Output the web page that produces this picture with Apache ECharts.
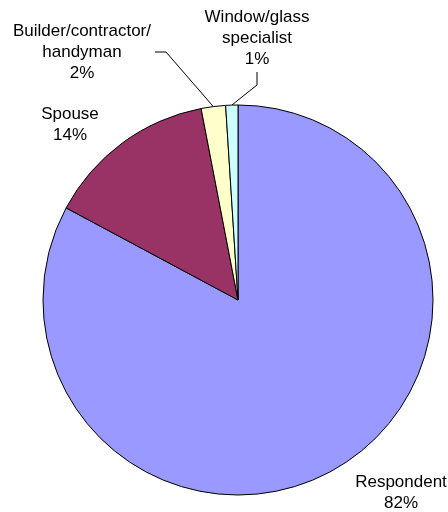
<!DOCTYPE html>
<html>
<head>
<meta charset="utf-8">
<script src="https://cdn.jsdelivr.net/npm/echarts@6/dist/echarts.min.js"></script>
<style>
  html, body { margin: 0; padding: 0; background: #ffffff; }
  #chart { width: 448px; height: 512px; }
</style>
</head>
<body>
<div id="chart"></div>
<script>
// Who did the work: share of answers (%)
const categories = ['Respondent', 'Spouse', 'Builder/contractor/\nhandyman', 'Window/glass\nspecialist'];
const shares = [82, 14, 2, 1];
const sliceColors = ['#9999FF', '#993366', '#FFFFCC', '#CCFFFF'];

// Where each label block sits (centre) and how its leader line bends
const labelSpots = [
  { x: 401, y: 493 },
  { x: 70, y: 125 },
  { x: 82, y: 52, route: [[166, 52], [155, 52]] },
  { x: 257, y: 38, route: [[257, 85], [257, 72]] }
];

const chart = echarts.init(document.getElementById('chart'), null, { renderer: 'canvas' });

const pieData = categories.map((name, i) => ({
  name: name,
  value: shares[i],
  itemStyle: { color: sliceColors[i] },
  labelLine: { show: !!labelSpots[i].route }
}));

chart.setOption({
  animation: false,
  backgroundColor: '#ffffff',
  series: [{
    type: 'pie',
    center: [238, 300],
    radius: 195,
    startAngle: 90,
    clockwise: true,
    avoidLabelOverlap: false,
    silent: true,
    data: pieData,
    itemStyle: { borderColor: '#000000', borderWidth: 1 },
    label: {
      show: true,
      position: 'outside',
      formatter: '{b}\n{c}%',
      color: '#000000',
      fontFamily: 'Liberation Sans, Arial, sans-serif',
      fontSize: 17,
      lineHeight: 21,
      align: 'center'
    },
    labelLine: {
      show: true,
      smooth: false,
      lineStyle: { color: '#000000', width: 1 }
    },
    labelLayout: function (params) {
      const spot = labelSpots[params.dataIndex];
      const out = { x: spot.x, y: spot.y, align: 'center', verticalAlign: 'middle' };
      if (spot.route && params.labelLinePoints) {
        out.labelLinePoints = [params.labelLinePoints[0]].concat(spot.route);
      }
      return out;
    },
    emphasis: { disabled: true }
  }]
});
</script>
</body>
</html>
